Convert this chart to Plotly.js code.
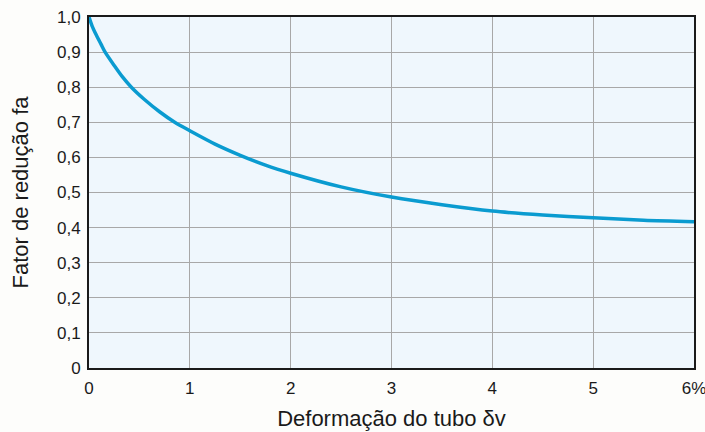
<!DOCTYPE html>
<html><head><meta charset="utf-8">
<script src="https://cdn.plot.ly/plotly-3.0.1.min.js"></script>
<style>body{margin:0;background:#fdfdfb;}</style>
</head><body>
<div id="chart" style="width:705px;height:432px;"></div>
<script>
const deformacao = [0, 0.03, 0.07, 0.12, 0.16, 0.25, 0.33, 0.42, 0.55, 0.7, 0.85, 1.0, 1.25, 1.5, 1.75, 2.0, 2.5, 3.0, 3.5, 4.0, 4.5, 5.0, 5.5, 6.0];
const fatorReducao = [1.0, 0.975, 0.950, 0.922, 0.900, 0.862, 0.830, 0.800, 0.765, 0.730, 0.700, 0.676, 0.638, 0.606, 0.578, 0.555, 0.516, 0.487, 0.465, 0.447, 0.436, 0.428, 0.421, 0.417];
const xTickVals = [0, 1, 2, 3, 4, 5, 6];
const xTickText = ["0", "1", "2", "3", "4", "5", "6%"];
const yTickVals = [0, 0.1, 0.2, 0.3, 0.4, 0.5, 0.6, 0.7, 0.8, 0.9, 1.0];
const yTickText = ["0", "0,1", "0,2", "0,3", "0,4", "0,5", "0,6", "0,7", "0,8", "0,9", "1,0"];

const trace = {
  x: deformacao, y: fatorReducao, type: 'scatter', mode: 'lines',
  line: {color: '#0a9bd0', width: 3.5, shape: 'spline', smoothing: 0.8},
  hoverinfo: 'none'
};
const layout = {
  width: 705, height: 432,
  margin: {l: 89, r: 11, t: 17, b: 64},
  paper_bgcolor: '#fdfdfb', plot_bgcolor: '#eff7fd',
  font: {family: 'Liberation Sans, Arial, sans-serif', size: 17, color: '#1a1a1a'},
  showlegend: false,
  xaxis: {
    range: [0, 6], tickvals: xTickVals, ticktext: xTickText,
    showgrid: true, gridcolor: '#a8a8a8', gridwidth: 1,
    zeroline: false, showline: true, linecolor: '#1a1a1a', linewidth: 2, mirror: true,
    ticks: '', ticklabelstandoff: 4, ticklabeloverflow: 'allow',
    title: {text: 'Deformação do tubo δv', font: {size: 22, color: '#1a1a1a'}, standoff: 13}
  },
  yaxis: {
    range: [0, 1.0], tickvals: yTickVals, ticktext: yTickText,
    showgrid: true, gridcolor: '#a8a8a8', gridwidth: 1,
    zeroline: false, showline: true, linecolor: '#1a1a1a', linewidth: 2, mirror: true,
    ticks: '', ticklabelstandoff: 3,
    title: {text: 'Fator de redução fa', font: {size: 22, color: '#1a1a1a'}, standoff: 22}
  }
};
Plotly.newPlot('chart', [trace], layout, {displayModeBar: false, staticPlot: true});
</script>
</body></html>
